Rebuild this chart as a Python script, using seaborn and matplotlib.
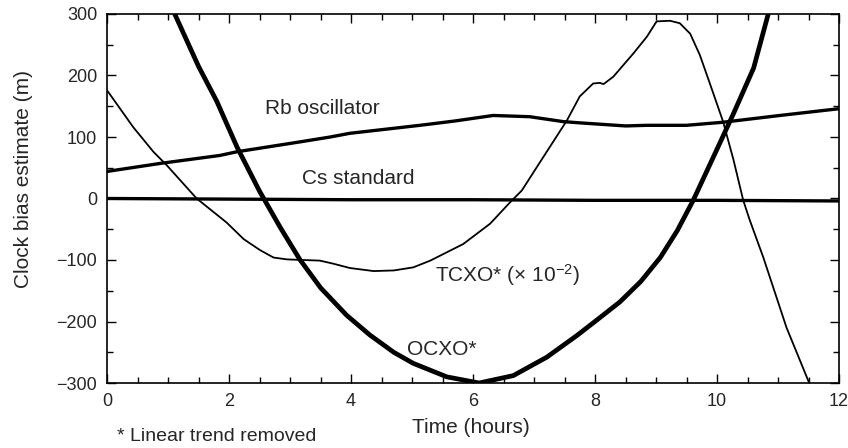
import numpy as np
import pandas as pd
import matplotlib
matplotlib.use("Agg")
import matplotlib.pyplot as plt
import seaborn as sns
from matplotlib.ticker import MultipleLocator

# ---------------- data ----------------
rb_t = [0.0, 0.87, 1.85, 2.13, 3.16, 3.66, 3.98, 4.6, 5.13, 5.7, 6.33, 6.93, 7.48, 7.75, 8.5, 8.85, 9.5, 10.1, 11.03, 12.0]
rb_y = [44, 57, 70, 76, 92, 100, 106, 113, 119, 126, 135, 133, 125, 123, 118, 119, 119, 124, 135, 146]

cs_t = [0.0, 2.0, 4.0, 6.0, 8.0, 10.0, 12.0]
cs_y = [0, -1, -2, -2, -3, -3, -4]

ocxo_t = [1.0, 1.11, 1.5, 1.8, 2.13, 2.5, 2.84, 3.16, 3.5, 3.93, 4.31, 4.7, 5.02, 5.57, 6.1,
          6.66, 7.21, 7.7, 8.0, 8.41, 8.75, 9.07, 9.35, 9.61, 9.99, 10.27, 10.6, 10.84, 10.92]
ocxo_y = [325, 300, 215, 158, 84, 12, -47, -99, -145, -190, -222, -250, -268, -290, -300,
          -288, -258, -223, -200, -168, -135, -96, -52, -3, 78, 138, 212, 300, 325]

tcxo_t = [0.0, 0.43, 0.76, 0.98, 1.47, 1.96, 2.24, 2.51, 2.73, 2.95, 3.49, 3.71, 3.98, 4.37, 4.7,
          5.02, 5.3, 5.84, 6.28, 6.61, 6.8, 7.15, 7.54, 7.75, 7.97, 8.08, 8.14, 8.3, 8.63, 8.85,
          9.01, 9.23, 9.39, 9.56, 9.72, 9.89, 10.1, 10.27, 10.43, 10.54, 10.76, 11.14, 11.52, 11.6]
tcxo_y = [176, 116, 76, 54, 0, -39, -66, -84, -96, -99, -101, -106, -113, -118, -117,
          -112, -101, -74, -41, -6, 13, 67, 127, 166, 187, 188, 186, 198, 236, 263,
          288, 289, 285, 268, 233, 185, 125, 63, -3, -36, -96, -210, -302, -322]

x_ticks = [0, 2, 4, 6, 8, 10, 12]
y_ticks = [-300, -200, -100, 0, 100, 200, 300]

# ---------------- style ----------------
sns.set_style("ticks")
plt.rcParams["font.family"] = ["Liberation Sans", "DejaVu Sans"]
plt.rcParams["mathtext.fontset"] = "custom"
plt.rcParams["mathtext.rm"] = "Liberation Sans"
plt.rcParams["mathtext.it"] = "Liberation Sans"
plt.rcParams["mathtext.default"] = "regular"

fig = plt.figure(figsize=(8.48, 4.48), dpi=100)
ax = fig.add_axes([107 / 848, 1 - 383 / 448, 732 / 848, 369 / 448])

series = [
    (rb_t, rb_y, 2.4),
    (cs_t, cs_y, 2.4),
    (ocxo_t, ocxo_y, 3.4),
    (tcxo_t, tcxo_y, 1.3),
]
for t, y, lw in series:
    df = pd.DataFrame({"t": t, "y": y})
    sns.lineplot(data=df, x="t", y="y", ax=ax, color="black", linewidth=lw,
                 estimator=None, sort=False)

ax.set_xlim(0, 12)
ax.set_ylim(-300, 300)
ax.set_xticks(x_ticks)
ax.set_yticks(y_ticks)
ax.xaxis.set_minor_locator(MultipleLocator(0.5))
ax.yaxis.set_minor_locator(MultipleLocator(50))
ax.tick_params(which="both", direction="in", top=True, right=True, width=1.0, color="black")
ax.tick_params(which="major", length=6.5, labelsize=13, pad=7)
ax.tick_params(which="minor", length=4)
for s in ax.spines.values():
    s.set_linewidth(1.2)
    s.set_color("black")

ax.set_xlabel("Time (hours)", fontsize=15)
ax.set_ylabel("Clock bias estimate (m)", fontsize=15)
ax.xaxis.set_label_coords(0.497, -0.095)
ax.yaxis.set_label_coords(-0.101, 0.554)

ax.text(2.59, 138, "Rb oscillator", fontsize=15, ha="left", va="baseline")
ax.text(3.19, 23, "Cs standard", fontsize=15, ha="left", va="baseline")
ax.text(5.38, -135, "TCXO* (× 10$^{-2}$)", fontsize=15, ha="left", va="baseline")
ax.text(4.91, -255, "OCXO*", fontsize=15, ha="left", va="baseline")

fig.text(117 / 848, 1 - 441 / 448, "* Linear trend removed", fontsize=14, ha="left", va="baseline")

fig.savefig("out.png", dpi=100)
